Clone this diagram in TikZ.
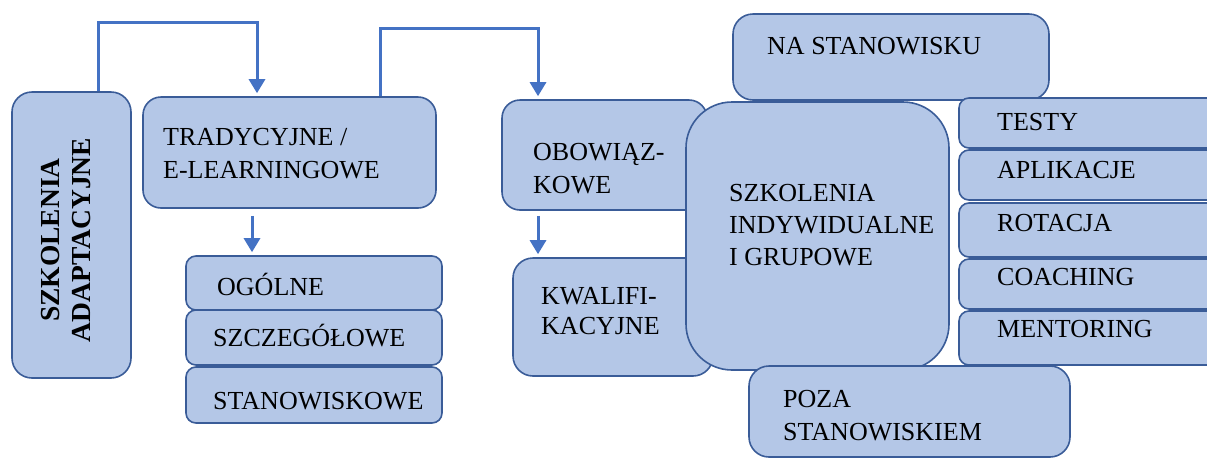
\documentclass[tikz,border=0pt]{standalone}
\usepackage{fontspec}
\setmainfont{Liberation Serif}
\usetikzlibrary{arrows.meta}
\definecolor{boxfill}{RGB}{180,199,231}
\definecolor{boxline}{RGB}{58,92,152}
\definecolor{arrowblue}{RGB}{68,114,196}
\tikzset{
  box/.style={draw=boxline, fill=boxfill, line width=1.6pt, rounded corners=#1, inner sep=0pt},
  box/.default=18pt,
  lbl/.style={anchor=base west, inner sep=0pt, align=left, font=\fontsize{26}{33}\selectfont},
  conn/.style={draw=arrowblue, line width=3pt, shorten >=3pt, -{Triangle[length=14pt,width=16pt]}},
}
\begin{document}
\begin{tikzpicture}[x=1pt,y=-1pt]
\useasboundingbox (0,0) rectangle (1207,459);
\clip (0,0) rectangle (1207,459);

% left column
\node[box=20pt, minimum width=119pt, minimum height=286pt] (adapt) at (71.5,235) {};
\node[inner sep=0pt, rotate=90, align=center, font=\fontsize{27.5}{31}\selectfont\bfseries] (adapt-t) at (66,240) {SZKOLENIA\\ADAPTACYJNE};

% traditional / e-learning branch (base anchor = last line)
\node[box=18pt, minimum width=293pt, minimum height=111pt] (trad) at (289.5,152.5) {};
\node[lbl] (trad-t) at (163,178) {TRADYCYJNE /\\E-LEARNINGOWE};

\node[box=10pt, minimum width=256pt, minimum height=54pt] (ogolne) at (314,283) {};
\node[lbl] (ogolne-t) at (217,295) {OGÓLNE};
\node[box=10pt, minimum width=256pt, minimum height=55pt] (szczeg) at (314,337.5) {};
\node[lbl] (szczeg-t) at (213,346) {SZCZEGÓŁOWE};
\node[box=10pt, minimum width=256pt, minimum height=56pt] (stanow) at (314,395) {};
\node[lbl] (stanow-t) at (213,409) {STANOWISKOWE};

% mandatory / qualification branch
\node[box=18pt, minimum width=205pt, minimum height=110pt] (obow) at (604.5,155) {};
\node[lbl] (obow-t) at (533,193) {OBOWIĄZ-\\KOWE};
\node[box=20pt, minimum width=200pt, minimum height=118pt] (kwal) at (613,317) {};
\node[lbl, font=\fontsize{26}{30}\selectfont] (kwal-t) at (541,334) {KWALIFI-\\KACYJNE};

% on-the-job
\node[box=20pt, minimum width=316pt, minimum height=86pt] (nastan) at (891,57) {};
\node[lbl] (nastan-t) at (767,54) {NA STANOWISKU};

% individual and group training
\node[box=46pt, minimum width=263pt, minimum height=268pt] (indyw) at (817.5,236) {};
\node[lbl, font=\fontsize{26}{32}\selectfont] (indyw-t) at (729,265) {SZKOLENIA\\INDYWIDUALNE\\I GRUPOWE};

% methods
\node[box=10pt, minimum width=271pt, minimum height=50pt] (testy) at (1094.5,123) {};
\node[lbl] (testy-t) at (997,130) {TESTY};
\node[box=10pt, minimum width=271pt, minimum height=50pt] (aplik) at (1094.5,175) {};
\node[lbl] (aplik-t) at (997,178) {APLIKACJE};
\node[box=10pt, minimum width=271pt, minimum height=54pt] (rotac) at (1094.5,230) {};
\node[lbl] (rotac-t) at (997,231) {ROTACJA};
\node[box=10pt, minimum width=271pt, minimum height=50pt] (coach) at (1094.5,284) {};
\node[lbl] (coach-t) at (997,285) {COACHING};
\node[box=10pt, minimum width=271pt, minimum height=54pt] (mentor) at (1094.5,338) {};
\node[lbl] (mentor-t) at (997,337) {MENTORING};

% off-the-job
\node[box=20pt, minimum width=321pt, minimum height=91pt] (poza) at (909.5,411.5) {};
\node[lbl] (poza-t) at (783,440) {POZA\\STANOWISKIEM};

% connectors
\draw[conn] ([xshift=26.5pt]adapt.north) -- ++(0,-69) -| ([xshift=-32.5pt]trad.north);
\draw[conn] ([xshift=90.5pt]trad.north) -- ++(0,-68) -| ([xshift=-66.5pt]obow.north);
\draw[conn] ([xshift=-37.5pt,yshift=-7pt]trad.south) -- ([xshift=-62pt]ogolne.north);
\draw[conn] ([xshift=-66.5pt,yshift=-5pt]obow.south) -- ([xshift=-75pt]kwal.north);
\end{tikzpicture}
\end{document}
